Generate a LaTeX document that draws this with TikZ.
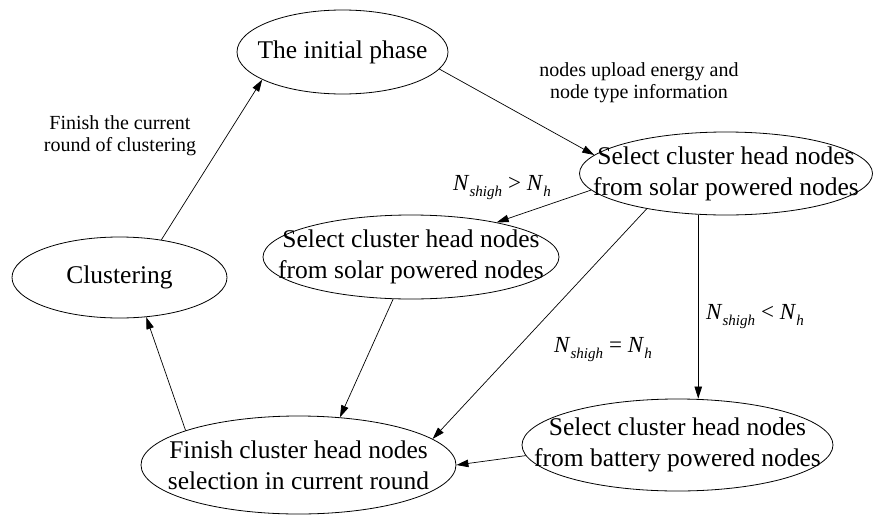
\documentclass[tikz,border=0pt]{standalone}
\usepackage{fontspec}
\setmainfont{Liberation Serif}
\usetikzlibrary{shapes.geometric,arrows.meta}

% italic subscript used in the threshold conditions
\newcommand\sbs[1]{\raisebox{-6pt}{\fontsize{15}{15}\selectfont\itshape #1}}
\newcommand\cond[1]{\textit{N}\sbs{shigh}\hspace{6pt}#1\hspace{6pt}\textit{N}\sbs{h}}

\begin{document}
\begin{tikzpicture}[x=1pt,y=-1pt,
  phase/.style={ellipse, draw, line width=0.8pt, inner sep=-80pt,
    align=center, font=\fontsize{25.5}{31}\selectfont},
  note/.style={align=center, inner sep=0pt, font=\fontsize{20}{22}\selectfont},
  condlabel/.style={inner sep=0pt, font=\fontsize{23}{23}\selectfont},
  flow/.style={-{Triangle[length=12pt,width=7.5pt]}, line width=0.7pt}]

\useasboundingbox (0,0) rectangle (873,517);

% states
\node[phase, minimum width=211pt, minimum height=84pt] (init) at (342.5,52) {The initial phase};
\node[phase, minimum width=293pt, minimum height=83pt] (topsolar) at (726,173.5)
  {Select cluster head nodes\\from solar powered nodes};
\node[phase, minimum width=215pt, minimum height=81pt] (clus) at (119.5,277.5) {Clustering};
\node[phase, minimum width=296pt, minimum height=84pt] (midsolar) at (411,257)
  {Select cluster head nodes\\from solar powered nodes};
\node[phase, minimum width=311pt, minimum height=92pt] (battery) at (677.5,445)
  {Select cluster head nodes\\from battery powered nodes};
\node[phase, minimum width=315pt, minimum height=98pt] (finish) at (298.5,465)
  {Finish cluster head nodes\\selection in current round};

% transitions
\draw[flow] (init.-10.7) -- (topsolar.172.4);
\draw[flow] (topsolar.187.9) -- (midsolar.22.7);
\draw[flow] (topsolar.204.8) -- (finish.11.4);
\draw[flow] (topsolar.236.5) -- (topsolar.236.5 |- battery.north);
\draw[flow] (midsolar.247.9) -- (finish.49);
\draw[flow] (battery.184.6) -- (finish.0.7);
\draw[flow] (finish.163) -- (clus.304.9);
\draw[flow] (clus.42.2) -- (init.199.2);

% annotations
\node[note] (upload) at (639,83) {nodes upload energy and\\node type information};
\node[note] (round) at (120,136) {Finish the current\\round of clustering};
\node[condlabel] (gt) at (502,188) {\cond{>}};
\node[condlabel] (eq) at (603,350) {\cond{=}};
\node[condlabel] (lt) at (755,317) {\cond{<}};
\end{tikzpicture}
\end{document}
